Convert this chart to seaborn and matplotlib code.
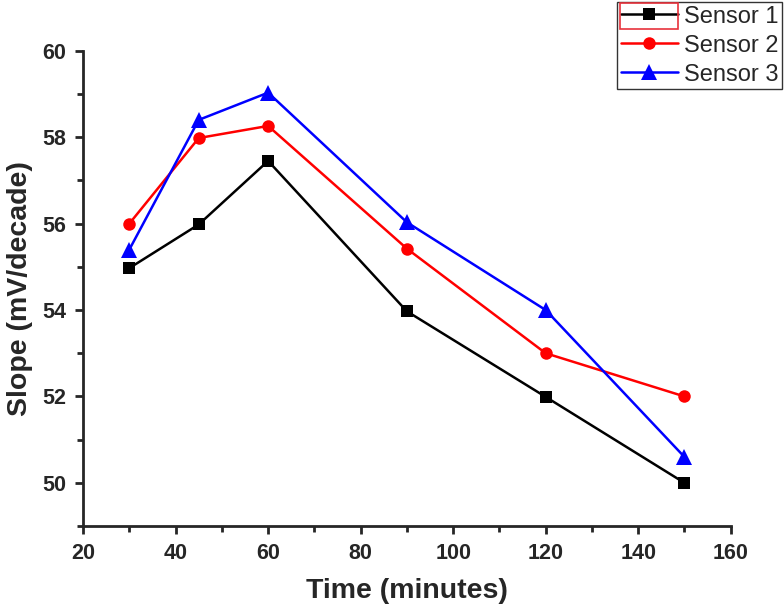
import pandas as pd
import seaborn as sns
import matplotlib.pyplot as plt
from matplotlib.ticker import MultipleLocator
from matplotlib.patches import Rectangle

# Data
time_min = [30, 45, 60, 90, 120, 150]
sensor_1 = [54.97, 55.98, 57.45, 53.97, 51.99, 50.0]
sensor_2 = [56.0, 57.98, 58.26, 55.42, 53.0, 52.0]
sensor_3 = [55.4, 58.4, 59.03, 56.03, 54.0, 50.6]
series_names = ["Sensor 1", "Sensor 2", "Sensor 3"]

df = pd.DataFrame({
    "time": time_min * 3,
    "slope": sensor_1 + sensor_2 + sensor_3,
    "sensor": [n for n in series_names for _ in time_min],
})

sns.set_style("ticks")
plt.rcParams["font.family"] = ["Liberation Sans", "DejaVu Sans"]

fig = plt.figure(figsize=(7.84, 6.04), dpi=100)
ax = fig.add_axes([0.106, 0.129, 0.826, 0.787])

sns.lineplot(data=df, x="time", y="slope", hue="sensor", style="sensor",
             palette=["black", "red", "blue"], markers=["s", "o", "^"],
             dashes=False, linewidth=1.8, markersize=9, markeredgewidth=0,
             ax=ax, legend=True)
# triangles look smaller at the same size, bump them up
ax.lines[2].set_markersize(11)

ax.set_xlim(20, 160)
ax.set_ylim(49, 60)
ax.xaxis.set_major_locator(MultipleLocator(20))
ax.xaxis.set_minor_locator(MultipleLocator(10))
ax.yaxis.set_major_locator(MultipleLocator(2))
ax.yaxis.set_minor_locator(MultipleLocator(1))
ax.set_yticks([50, 52, 54, 56, 58, 60])

sns.despine(ax=ax)
for s in ["left", "bottom"]:
    ax.spines[s].set_linewidth(2)
ax.tick_params(which="major", direction="out", length=6, width=2, labelsize=15.5, pad=6)
ax.tick_params(which="minor", direction="out", length=4, width=2)
for lbl in ax.get_xticklabels() + ax.get_yticklabels():
    lbl.set_fontweight("bold")

ax.set_xlabel("Time (minutes)", fontsize=20.5, fontweight="bold", labelpad=10)
ax.set_ylabel("Slope (mV/decade)", fontsize=20.5, fontweight="bold", labelpad=7)

leg = ax.legend(loc="upper left", bbox_to_anchor=(617 / 784, 1 - 2 / 604),
                bbox_transform=fig.transFigure, fontsize=17, frameon=True,
                fancybox=False, edgecolor="black", borderaxespad=0,
                handlelength=2.45, handletextpad=0.25, labelspacing=0.3,
                borderpad=0.15)
leg.get_frame().set_linewidth(1)
leg.legend_handles[2].set_markersize(11)

# red selection box around the first legend handle, as in the source image
fig.patches.append(Rectangle((620 / 784, 1 - 29 / 604), 58 / 784, 26 / 604,
                             transform=fig.transFigure, fill=False,
                             edgecolor="#e8323c", linewidth=1.2))

fig.savefig("out.png", dpi=100)
